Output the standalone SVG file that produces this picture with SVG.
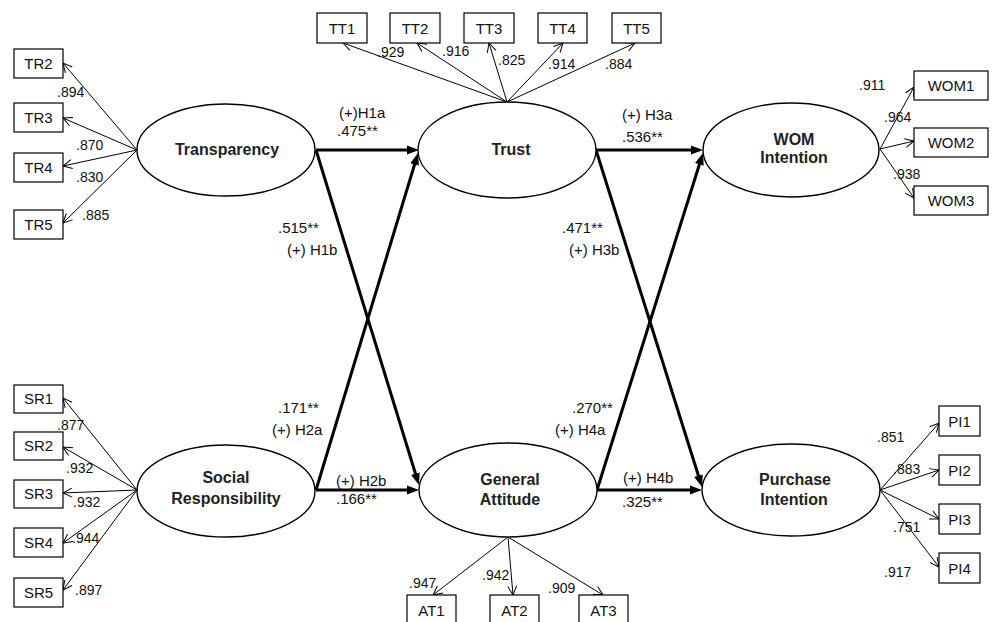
<svg xmlns="http://www.w3.org/2000/svg" width="994" height="622" viewBox="0 0 994 622">
<defs>
<marker id="thick" markerUnits="userSpaceOnUse" markerWidth="13" markerHeight="11" viewBox="0 0 13 11" refX="6" refY="5" orient="auto"><path d="M0,0.5 L12,5 L0,9.5 z" fill="#000"/></marker>
<marker id="thin" markerUnits="userSpaceOnUse" markerWidth="12" markerHeight="12" viewBox="0 0 12 12" refX="10" refY="6" orient="auto"><path d="M1,1.5 L10,6 L1,10.5" fill="none" stroke="#000" stroke-width="1"/></marker>
<style>
.ell{fill:#fff;stroke:#000;stroke-width:1.4}
.box{fill:#fff;stroke:#000;stroke-width:1.2}
.bt{font-family:"Liberation Sans",Arial,sans-serif;font-size:15px;text-anchor:middle;fill:#111}
.et{font-family:"Liberation Sans",Arial,sans-serif;font-size:16px;font-weight:bold;text-anchor:middle;fill:#222}
.lt{font-family:"Liberation Sans",Arial,sans-serif;font-size:14px;fill:#111}
.pt{font-family:"Liberation Sans",Arial,sans-serif;font-size:15px;fill:#111}
.tk{stroke:#000;stroke-width:3;fill:none;marker-end:url(#thick)}
.tn{stroke:#000;stroke-width:1;fill:none;marker-end:url(#thin)}
</style>
</defs>
<rect width="994" height="622" fill="#fff"/>
<g id="connectors">
<line class="tn" x1="137" y1="150" x2="63" y2="63"/>
<line class="tn" x1="137" y1="150" x2="63" y2="118"/>
<line class="tn" x1="137" y1="150" x2="63" y2="166"/>
<line class="tn" x1="137" y1="150" x2="63" y2="223"/>
<line class="tn" x1="507" y1="102" x2="343" y2="43"/>
<line class="tn" x1="507" y1="102" x2="417" y2="43"/>
<line class="tn" x1="507" y1="102" x2="489" y2="43"/>
<line class="tn" x1="507" y1="102" x2="563" y2="43"/>
<line class="tn" x1="507" y1="102" x2="635" y2="43"/>
<line class="tn" x1="880" y1="149" x2="914" y2="87"/>
<line class="tn" x1="880" y1="149" x2="914" y2="141"/>
<line class="tn" x1="880" y1="149" x2="914" y2="198"/>
<line class="tn" x1="137" y1="490" x2="63" y2="398"/>
<line class="tn" x1="137" y1="490" x2="63" y2="447"/>
<line class="tn" x1="137" y1="490" x2="63" y2="493"/>
<line class="tn" x1="137" y1="490" x2="63" y2="543"/>
<line class="tn" x1="137" y1="490" x2="63" y2="590"/>
<line class="tn" x1="508" y1="537" x2="433" y2="595"/>
<line class="tn" x1="508" y1="537" x2="513" y2="595"/>
<line class="tn" x1="508" y1="537" x2="603" y2="595"/>
<line class="tn" x1="880" y1="490" x2="939" y2="423"/>
<line class="tn" x1="880" y1="490" x2="939" y2="470"/>
<line class="tn" x1="880" y1="490" x2="939" y2="519"/>
<line class="tn" x1="880" y1="490" x2="939" y2="567"/>
<line class="tk" x1="316" y1="150" x2="413" y2="150"/>
<line class="tk" x1="316" y1="150" x2="417.2" y2="479.3"/>
<line class="tk" x1="316" y1="490" x2="416.3" y2="158.7"/>
<line class="tk" x1="316" y1="490" x2="413" y2="490"/>
<line class="tk" x1="596" y1="150" x2="697" y2="150"/>
<line class="tk" x1="596" y1="150" x2="700.2" y2="481.3"/>
<line class="tk" x1="597" y1="490" x2="701.2" y2="158.7"/>
<line class="tk" x1="597" y1="490" x2="696" y2="490"/>
</g>
<g id="transparency"><ellipse class="ell" cx="226" cy="150" rx="89" ry="46"/><text class="et" x="227" y="155">Transparency</text></g>
<g id="trust"><ellipse class="ell" cx="507" cy="150" rx="89" ry="48"/><text class="et" x="511" y="155">Trust</text></g>
<g id="wom"><ellipse class="ell" cx="791" cy="150" rx="88" ry="47"/><text class="et" x="794" y="145">WOM</text><text class="et" x="794" y="163">Intention</text></g>
<g id="social"><ellipse class="ell" cx="226" cy="491" rx="89" ry="46"/><text class="et" x="226" y="483">Social</text><text class="et" x="226" y="504">Responsibility</text></g>
<g id="attitude"><ellipse class="ell" cx="508" cy="490" rx="89" ry="47"/><text class="et" x="510" y="485">General</text><text class="et" x="510" y="505">Attitude</text></g>
<g id="purchase"><ellipse class="ell" cx="791" cy="490" rx="89" ry="46"/><text class="et" x="795" y="485">Purchase</text><text class="et" x="794" y="505">Intention</text></g>
<g id="TR2"><rect class="box" x="14" y="49" width="49" height="29"/><text class="bt" x="38.5" y="69">TR2</text></g>
<g id="TR3"><rect class="box" x="14" y="103" width="49" height="29"/><text class="bt" x="38.5" y="123">TR3</text></g>
<g id="TR4"><rect class="box" x="14" y="153" width="49" height="29"/><text class="bt" x="38.5" y="173">TR4</text></g>
<g id="TR5"><rect class="box" x="14" y="210" width="49" height="29"/><text class="bt" x="38.5" y="230">TR5</text></g>
<g id="TT1"><rect class="box" x="317" y="13" width="50" height="30"/><text class="bt" x="342" y="34">TT1</text></g>
<g id="TT2"><rect class="box" x="390" y="13" width="50" height="30"/><text class="bt" x="415" y="34">TT2</text></g>
<g id="TT3"><rect class="box" x="464" y="13" width="50" height="30"/><text class="bt" x="489" y="34">TT3</text></g>
<g id="TT4"><rect class="box" x="538" y="13" width="49" height="30"/><text class="bt" x="562.5" y="34">TT4</text></g>
<g id="TT5"><rect class="box" x="612" y="13" width="49" height="30"/><text class="bt" x="636.5" y="34">TT5</text></g>
<g id="WOM1"><rect class="box" x="914" y="71" width="74" height="29"/><text class="bt" x="951" y="91">WOM1</text></g>
<g id="WOM2"><rect class="box" x="914" y="128" width="74" height="29"/><text class="bt" x="951" y="148">WOM2</text></g>
<g id="WOM3"><rect class="box" x="914" y="186" width="74" height="29"/><text class="bt" x="951" y="206">WOM3</text></g>
<g id="SR1"><rect class="box" x="14" y="385" width="49" height="28"/><text class="bt" x="38.5" y="404">SR1</text></g>
<g id="SR2"><rect class="box" x="14" y="432" width="49" height="28"/><text class="bt" x="38.5" y="451">SR2</text></g>
<g id="SR3"><rect class="box" x="14" y="480" width="49" height="28"/><text class="bt" x="38.5" y="499">SR3</text></g>
<g id="SR4"><rect class="box" x="14" y="528" width="49" height="29"/><text class="bt" x="38.5" y="548">SR4</text></g>
<g id="SR5"><rect class="box" x="14" y="578" width="49" height="29"/><text class="bt" x="38.5" y="598">SR5</text></g>
<g id="AT1"><rect class="box" x="407" y="595" width="49" height="30"/><text class="bt" x="431.5" y="616">AT1</text></g>
<g id="AT2"><rect class="box" x="490" y="595" width="49" height="30"/><text class="bt" x="514.5" y="616">AT2</text></g>
<g id="AT3"><rect class="box" x="579" y="595" width="49" height="30"/><text class="bt" x="603.5" y="616">AT3</text></g>
<g id="PI1"><rect class="box" x="939" y="406" width="41" height="30"/><text class="bt" x="959.5" y="427">PI1</text></g>
<g id="PI2"><rect class="box" x="939" y="455" width="41" height="30"/><text class="bt" x="959.5" y="476">PI2</text></g>
<g id="PI3"><rect class="box" x="939" y="504" width="41" height="30"/><text class="bt" x="959.5" y="525">PI3</text></g>
<g id="PI4"><rect class="box" x="939" y="553" width="41" height="30"/><text class="bt" x="959.5" y="574">PI4</text></g>
<g id="loadings">
<text class="lt" x="57" y="97">.894</text>
<text class="lt" x="76" y="150">.870</text>
<text class="lt" x="76" y="182">.830</text>
<text class="lt" x="82" y="220">.885</text>
<text class="lt" x="377" y="57">.929</text>
<text class="lt" x="442" y="56">.916</text>
<text class="lt" x="498" y="65">.825</text>
<text class="lt" x="548" y="69">.914</text>
<text class="lt" x="605" y="69">.884</text>
<text class="lt" x="859" y="90">.911</text>
<text class="lt" x="884" y="122">.964</text>
<text class="lt" x="893" y="179">.938</text>
<text class="lt" x="57" y="430">.877</text>
<text class="lt" x="66" y="473">.932</text>
<text class="lt" x="73" y="507">.932</text>
<text class="lt" x="72" y="543">.944</text>
<text class="lt" x="75" y="595">.897</text>
<text class="lt" x="409" y="588">.947</text>
<text class="lt" x="482" y="580">.942</text>
<text class="lt" x="548" y="593">.909</text>
<text class="lt" x="877" y="442">.851</text>
<text class="lt" x="893" y="474">.883</text>
<text class="lt" x="893" y="532">.751</text>
<text class="lt" x="884" y="577">.917</text>
</g>
<g id="paths">
<text class="pt" x="339" y="118">(+)H1a</text>
<text class="pt" x="337" y="136">.475**</text>
<text class="pt" x="622" y="120">(+) H3a</text>
<text class="pt" x="622" y="142">.536**</text>
<text class="pt" x="336" y="486">(+) H2b</text>
<text class="pt" x="336" y="504">.166**</text>
<text class="pt" x="623" y="483">(+) H4b</text>
<text class="pt" x="622" y="507">.325**</text>
<text class="pt" x="278" y="233">.515**</text>
<text class="pt" x="287" y="255">(+) H1b</text>
<text class="pt" x="562" y="233">.471**</text>
<text class="pt" x="569" y="255">(+) H3b</text>
<text class="pt" x="278" y="413">.171**</text>
<text class="pt" x="272" y="435">(+) H2a</text>
<text class="pt" x="572" y="413">.270**</text>
<text class="pt" x="555" y="435">(+) H4a</text>
</g>
</svg>
